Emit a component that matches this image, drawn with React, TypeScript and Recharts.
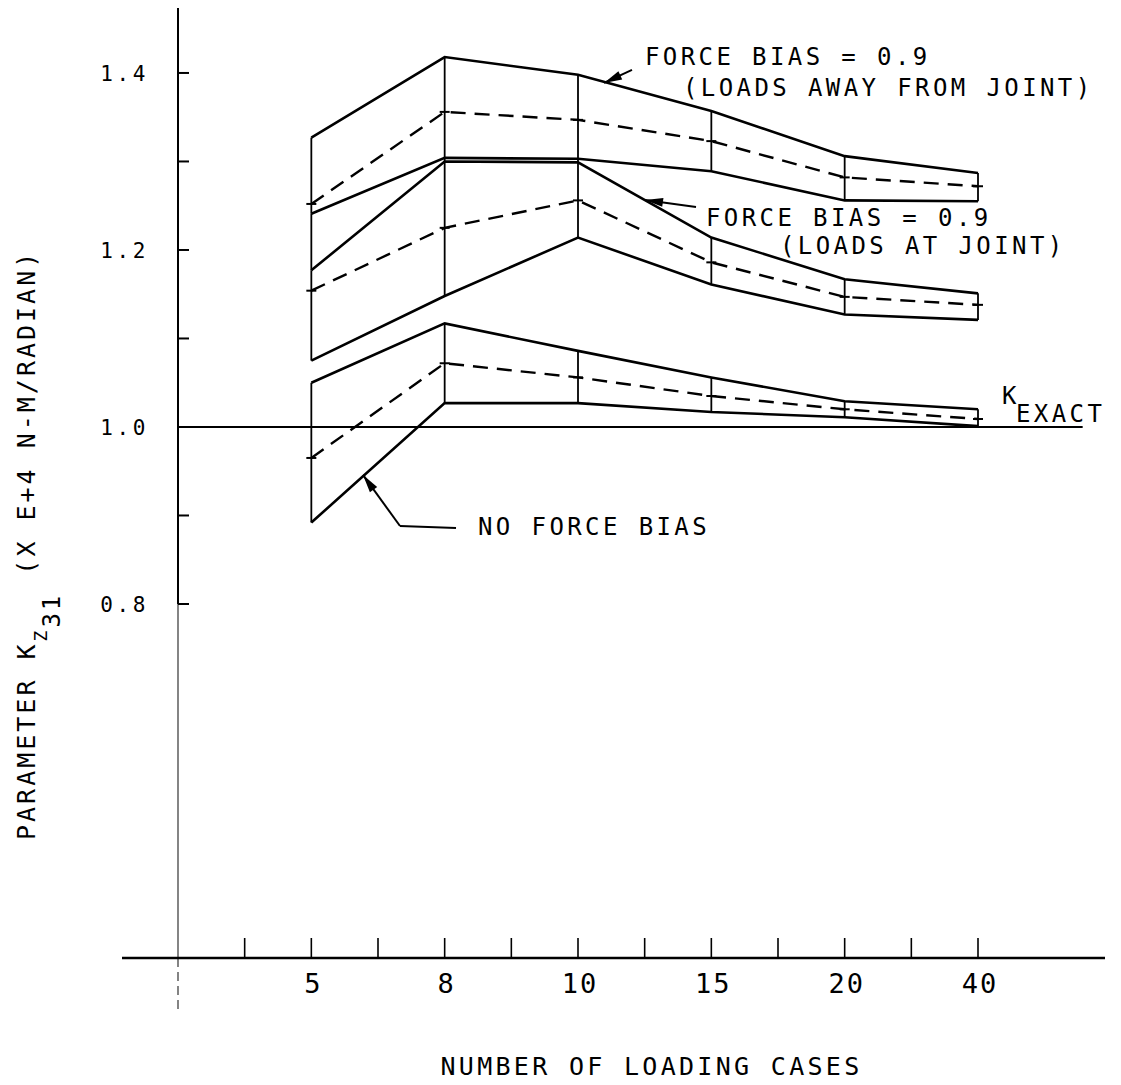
import React from 'react'
import { ComposedChart, Line, XAxis, YAxis, ReferenceLine, ReferenceDot } from 'recharts'

const loadingCases = [5, 8, 10, 15, 20, 40]

// force bias = 0.9, loads away from joint
const awayHigh = [1.327, 1.418, 1.398, 1.357, 1.306, 1.287]
const awayMean = [1.252, 1.356, 1.347, 1.323, 1.282, 1.272]
const awayLow = [1.241, 1.304, 1.303, 1.289, 1.256, 1.255]

// force bias = 0.9, loads at joint
const jointHigh = [1.177, 1.3, 1.299, 1.214, 1.167, 1.151]
const jointMean = [1.154, 1.225, 1.256, 1.186, 1.147, 1.138]
const jointLow = [1.075, 1.148, 1.214, 1.161, 1.127, 1.121]

// no force bias
const noBiasHigh = [1.05, 1.117, 1.086, 1.056, 1.029, 1.02]
const noBiasMean = [0.965, 1.072, 1.056, 1.035, 1.02, 1.009]
const noBiasLow = [0.892, 1.027, 1.027, 1.017, 1.011, 1.001]

// cases where the two biased bands share one vertical bar
const bridgedCases = [5, 8, 10]

const kExact = 1.0
const yTicks = [0.8, 0.9, 1.0, 1.1, 1.2, 1.3, 1.4]
const yLabelled = [0.8, 1.0, 1.2, 1.4]
const xTicks = [1, 2, 3, 4, 5, 6, 7, 8, 9, 10, 11, 12]

const X_MAX = 13.905
const Y_MIN = 0.4
const Y_MAX = 1.4734

// annotation text, placed in data units (x slot, y value at baseline)
const notes = [
  { x: 7.005, y: 1.409, text: 'FORCE BIAS = 0.9', spacing: 3.4 },
  { x: 7.575, y: 1.374, text: '(LOADS AWAY FROM JOINT)', spacing: 3.4 },
  { x: 7.92, y: 1.2272, text: 'FORCE BIAS = 0.9', spacing: 3.4 },
  { x: 9.03, y: 1.1955, text: '(LOADS AT JOINT)', spacing: 3.4 },
  { x: 4.5, y: 0.878, text: 'NO FORCE BIAS', spacing: 3.4 },
  { x: 12.57, y: 1.0056, text: 'EXACT', spacing: 3.4 },
  { x: 12.36, y: 1.0259, text: 'K', spacing: 0 },
]

const arrows = [
  { from: { x: 6.81, y: 1.4034 }, to: { x: 6.39, y: 1.3887 }, head: true },
  { from: { x: 7.77, y: 1.2486 }, to: { x: 7.005, y: 1.2565 }, head: true },
  { from: { x: 4.17, y: 0.8859 }, to: { x: 3.33, y: 0.8881 }, head: false },
  { from: { x: 3.33, y: 0.8881 }, to: { x: 2.775, y: 0.9458 }, head: true },
]

const FONT = '"DejaVu Sans Mono", monospace'

const data = loadingCases.map((n, i) => ({
  slot: 2 * (i + 1),
  cases: n,
  awayHigh: awayHigh[i],
  awayMean: awayMean[i],
  awayLow: awayLow[i],
  jointHigh: jointHigh[i],
  jointMean: jointMean[i],
  jointLow: jointLow[i],
  noBiasHigh: noBiasHigh[i],
  noBiasMean: noBiasMean[i],
  noBiasLow: noBiasLow[i],
}))

const caseLabel = (slot: number) => {
  const row = data.find((d) => d.slot === slot)
  return row ? String(row.cases) : ''
}

const YTick = (props: any) => {
  const { x, y, payload } = props
  const v = payload.value as number
  const show = yLabelled.some((t) => Math.abs(t - v) < 1e-6)
  return (
    <g>
      <line x1={x} y1={y} x2={x + 11} y2={y} stroke="#000" strokeWidth={2} />
      {show && (
        <text
          x={x - 29}
          y={y + 8}
          textAnchor="end"
          fontFamily={FONT}
          fontSize={21}
          letterSpacing={3.6}
          fill="#000"
        >
          {v.toFixed(1)}
        </text>
      )}
    </g>
  )
}

const XTick = (props: any) => {
  const { x, y, payload } = props
  const label = caseLabel(payload.value)
  return (
    <g>
      <line x1={x} y1={y} x2={x} y2={y - 20} stroke="#000" strokeWidth={1.6} />
      {label && (
        <text
          x={x + 2}
          y={y + 35}
          textAnchor="middle"
          fontFamily={FONT}
          fontSize={27}
          letterSpacing={2}
          fill="#000"
        >
          {label}
        </text>
      )}
    </g>
  )
}

const TickDot = (props: any) => {
  const { cx, cy, index } = props
  if (cx == null || cy == null) return <g key={index} />
  return <line key={index} x1={cx - 5} y1={cy} x2={cx + 5} y2={cy} stroke="#000" strokeWidth={2} />
}

const ArrowShape = (head: boolean) => (props: any) => {
  const { x1, y1, x2, y2 } = props
  const dx = x2 - x1
  const dy = y2 - y1
  const len = Math.hypot(dx, dy) || 1
  const ux = dx / len
  const uy = dy / len
  const hl = 18
  const hw = 4.5
  const bx = x2 - ux * hl
  const by = y2 - uy * hl
  return (
    <g>
      <line x1={x1} y1={y1} x2={x2} y2={y2} stroke="#000" strokeWidth={2} />
      {head && (
        <polygon
          points={`${x2},${y2} ${bx - uy * hw},${by + ux * hw} ${bx + uy * hw},${by - ux * hw}`}
          fill="#000"
        />
      )}
    </g>
  )
}

const NoteShape = (text: string, spacing: number) => (props: any) => (
  <text
    x={props.cx}
    y={props.cy}
    fontFamily={FONT}
    fontSize={24}
    letterSpacing={spacing}
    fill="#000"
  >
    {text}
  </text>
)

const solid = { stroke: '#000', strokeWidth: 2.6, dot: false, activeDot: false, isAnimationActive: false }
const dashed = {
  stroke: '#000',
  strokeWidth: 2.4,
  strokeDasharray: '15 9',
  dot: TickDot,
  activeDot: false,
  isAnimationActive: false,
}

export default function App() {
  const bands = [
    { hi: awayHigh, lo: awayLow },
    { hi: jointHigh, lo: jointLow },
    { hi: noBiasHigh, lo: noBiasLow },
  ]

  return (
    <div style={{ width: 1105, height: 1077, marginBottom: -8, background: '#fff' }}>
      <ComposedChart
        width={1105}
        height={1077}
        data={data}
        margin={{ top: 0, right: 8, bottom: 0, left: 169 }}
        style={{ overflow: 'visible' }}
      >
        <XAxis
          type="number"
          dataKey="slot"
          domain={[0, X_MAX]}
          ticks={xTicks}
          interval={0}
          allowDataOverflow
          height={127}
          tickSize={0}
          tickMargin={0}
          tickLine={false}
          axisLine={{ stroke: '#000', strokeWidth: 2.5 }}
          tick={<XTick />}
          label={{
            content: (p: any) => {
              const vb = p.viewBox
              return (
                <text
                  x={vb.x + vb.width / 2 + 10}
                  y={vb.y + 117}
                  textAnchor="middle"
                  fontFamily={FONT}
                  fontSize={25}
                  letterSpacing={3.3}
                  fill="#000"
                >
                  NUMBER OF LOADING CASES
                </text>
              )
            },
          }}
        />
        <YAxis
          type="number"
          domain={[Y_MIN, Y_MAX]}
          ticks={yTicks}
          interval={0}
          allowDataOverflow
          width={1}
          tickSize={0}
          tickMargin={0}
          tickLine={false}
          axisLine={false}
          tick={<YTick />}
          label={{
            content: (p: any) => {
              const vb = p.viewBox
              const bx = vb.x + vb.width - 143
              const by = vb.y + 832
              return (
                <text
                  x={bx}
                  y={by}
                  transform={`rotate(-90, ${bx}, ${by})`}
                  fontFamily={FONT}
                  fontSize={25}
                  letterSpacing={3}
                  fill="#000"
                >
                  PARAMETER K
                  <tspan fontSize={18} dy={12}>
                    Z
                  </tspan>
                  <tspan fontSize={24} dy={13}>
                    31
                  </tspan>
                  <tspan dy={-25} dx={18}>
                    (X E+4 N-M/RADIAN)
                  </tspan>
                </text>
              )
            },
          }}
        />

        {/* axis lines */}
        <ReferenceLine
          segment={[{ x: 0, y: Y_MAX }, { x: 0, y: 0.8 }]}
          stroke="#000"
          strokeWidth={2}
          ifOverflow="visible"
        />
        <ReferenceLine
          segment={[{ x: 0, y: 0.8 }, { x: 0, y: Y_MIN }]}
          stroke="#333"
          strokeWidth={1.2}
          ifOverflow="visible"
        />
        <ReferenceLine
          segment={[{ x: 0, y: Y_MIN }, { x: 0, y: 0.341 }]}
          stroke="#333"
          strokeWidth={1.2}
          strokeDasharray="9 5"
          ifOverflow="visible"
        />
        <ReferenceLine
          segment={[{ x: -0.84, y: Y_MIN }, { x: 0, y: Y_MIN }]}
          stroke="#000"
          strokeWidth={2.5}
          ifOverflow="visible"
        />
        <ReferenceLine
          segment={[{ x: 0, y: kExact }, { x: 13.57, y: kExact }]}
          stroke="#000"
          strokeWidth={2}
          ifOverflow="visible"
        />

        {/* vertical spread bars */}
        {bands.map((b, bi) =>
          data.map((d, i) => (
            <ReferenceLine
              key={`bar-${bi}-${i}`}
              segment={[{ x: d.slot, y: b.lo[i] }, { x: d.slot, y: b.hi[i] }]}
              stroke="#000"
              strokeWidth={1.8}
              ifOverflow="visible"
            />
          ))
        )}
        {data
          .filter((d) => bridgedCases.includes(d.cases))
          .map((d) => (
            <ReferenceLine
              key={`bridge-${d.cases}`}
              segment={[{ x: d.slot, y: d.jointHigh }, { x: d.slot, y: d.awayLow }]}
              stroke="#000"
              strokeWidth={1.8}
              ifOverflow="visible"
            />
          ))}

        <Line dataKey="awayHigh" {...solid} />
        <Line dataKey="awayMean" {...dashed} />
        <Line dataKey="awayLow" {...solid} />
        <Line dataKey="jointHigh" {...solid} />
        <Line dataKey="jointMean" {...dashed} />
        <Line dataKey="jointLow" {...solid} />
        <Line dataKey="noBiasHigh" {...solid} />
        <Line dataKey="noBiasMean" {...dashed} />
        <Line dataKey="noBiasLow" {...solid} />

        {/* annotations */}
        {arrows.map((a, i) => (
          <ReferenceLine
            key={`arrow-${i}`}
            segment={[a.from, a.to]}
            ifOverflow="visible"
            shape={ArrowShape(a.head)}
          />
        ))}
        {notes.map((n, i) => (
          <ReferenceDot
            key={`note-${i}`}
            x={n.x}
            y={n.y}
            r={0}
            ifOverflow="visible"
            shape={NoteShape(n.text, n.spacing)}
          />
        ))}
      </ComposedChart>
    </div>
  )
}
